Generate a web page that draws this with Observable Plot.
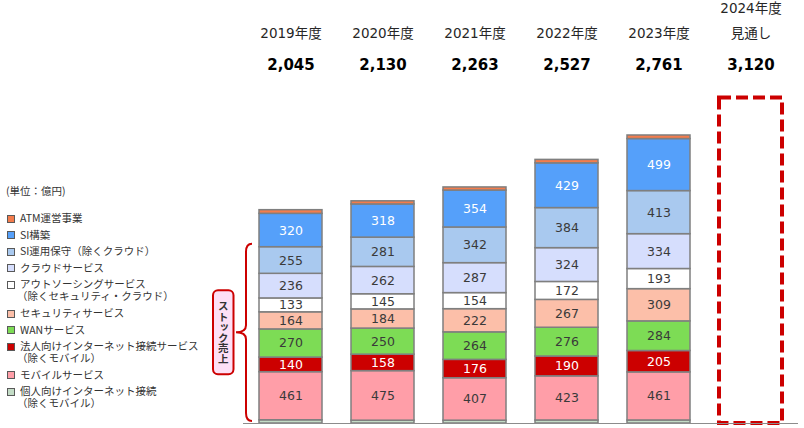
<!DOCTYPE html>
<html><head><meta charset="utf-8">
<script src="https://cdn.jsdelivr.net/npm/d3@7"></script>
<script src="https://cdn.jsdelivr.net/npm/@observablehq/plot@0.6"></script>
<style>
body{margin:0;background:#fff;}
#wrap{position:relative;width:804px;height:428px;overflow:hidden;}
#chart svg{display:block;}
#legend{position:absolute;left:0;top:0;width:240px;height:428px;font-family:"Noto Sans CJK JP",sans-serif;font-size:10.5px;color:#333;pointer-events:none;}
#legend .unit{position:absolute;left:6px;top:185px;line-height:12px;}
#legend .item{position:absolute;left:20px;line-height:12px;white-space:nowrap;}
#legend .sw{position:absolute;left:-13px;top:2.5px;width:6px;height:6px;border:1px solid #595959;}
#legend .txt{white-space:pre;margin-left:-3px;text-indent:3px;}
</style></head><body>
<div id="wrap"><div id="chart"></div><div id="legend"></div></div>
<script>
const years = ["2019","2020","2021","2022","2023","2024"];
const actualYears = ["2019","2020","2021","2022","2023"];
const headerTop = ["","","","","","2024年度"];
const headerMain = ["2019年度","2020年度","2021年度","2022年度","2023年度","見通し"];
const totals = [2045,2130,2263,2527,2761,3120];
const forecastYear = "2024";
const forecastTotal = 3120;

// series, bottom to top
const seriesNames = [
  "個人向けインターネット接続（除くモバイル）",
  "モバイルサービス",
  "法人向けインターネット接続サービス（除くモバイル）",
  "WANサービス",
  "セキュリティサービス",
  "アウトソーシングサービス（除くセキュリティ・クラウド）",
  "クラウドサービス",
  "SI運用保守（除くクラウド）",
  "SI構築",
  "ATM運営事業"
];
const kojin       = [31, 27, 27, 29, 29];
const mobile      = [461, 475, 407, 423, 461];
const houjin      = [140, 158, 176, 190, 205];
const wan         = [270, 250, 264, 276, 284];
const security    = [164, 184, 222, 267, 309];
const outsourcing = [133, 145, 154, 172, 193];
const cloud       = [236, 262, 287, 324, 334];
const siOps       = [255, 281, 342, 384, 413];
const siBuild     = [320, 318, 354, 429, 499];
const atm         = [35, 30, 30, 33, 34];
const seriesValues = [kojin, mobile, houjin, wan, security, outsourcing, cloud, siOps, siBuild, atm];
const colors = ["#c3dcc6","#ff9ea8","#cc0000","#7ddc55","#fcbfa9","#ffffff","#d6defd","#a9c9ef","#55a0fa","#f47c4c"];
const unlabeled = new Set(["個人向けインターネット接続（除くモバイル）","ATM運営事業"]);
const whiteText = new Set(["SI構築","法人向けインターネット接続サービス（除くモバイル）"]);
const stockSeries = seriesNames.slice(0, 8);

// legend, top to bottom
const legendSeries = seriesNames.slice().reverse();
const legendLabels = [
  ["ATM運営事業"],
  ["SI構築"],
  ["SI運用保守（除くクラウド）"],
  ["クラウドサービス"],
  ["アウトソーシングサービス","（除くセキュリティ・クラウド）"],
  ["セキュリティサービス"],
  ["WANサービス"],
  ["法人向けインターネット接続サービス","（除くモバイル）"],
  ["モバイルサービス"],
  ["個人向けインターネット接続","（除くモバイル）"]
];
const unitLabel = "(単位：億円)";
const stockLabel = "ストック売上";

const data = [];
actualYears.forEach((yr, i) => seriesNames.forEach((s, j) => data.push({year: yr, series: s, value: seriesValues[j][i]})));
const forecast = [{year: forecastYear, total: forecastTotal}];
const fmt = d3.format(",");

const stackOpts = {x: "year", y: "value", z: "series", order: seriesNames};
const hdr = {frameAnchor: "top", lineAnchor: "middle"};
const plot = Plot.plot({
  width: 804, height: 428,
  marginLeft: 243, marginRight: 6, marginTop: 0, marginBottom: 5,
  x: {type: "band", domain: years, paddingInner: 0.32, paddingOuter: 0.16, axis: null},
  y: {domain: [0, 4055], axis: null},
  color: {domain: seriesNames, range: colors},
  style: {fontFamily: "'DejaVu Sans','Noto Sans CJK JP',sans-serif", background: "transparent"},
  marks: [
    Plot.barY(forecast, {x: "year", y: "total", fill: "white", stroke: "#cc0000", strokeWidth: 4, strokeDasharray: "12,5"}),
    Plot.barY(data, {x: "year", y: "value", fill: "series", stroke: "#7f7f7f", strokeWidth: 1.5, order: seriesNames}),
    Plot.text(data, Plot.stackY({...stackOpts, text: d => (!unlabeled.has(d.series) && !whiteText.has(d.series)) ? String(d.value) : null, fill: "#3a3a3a", fontSize: 12.5})),
    Plot.text(data, Plot.stackY({...stackOpts, text: d => whiteText.has(d.series) ? String(d.value) : null, fill: "white", fontSize: 12.5})),
    Plot.ruleY([0], {stroke: "#8c8c8c", strokeWidth: 1}),
    Plot.text(years, {x: d => d, text: headerTop, ...hdr, dy: 8, fontSize: 13.5, fill: "#262626"}),
    Plot.text(years, {x: d => d, text: headerMain, ...hdr, dy: 33, fontSize: 13.5, fill: "#262626"}),
    Plot.text(years, {x: d => d, text: totals.map(fmt), ...hdr, dy: 65, fontSize: 15, fontWeight: "bold", fill: "#000"})
  ]
});
document.getElementById("chart").appendChild(plot);

// brace + "stock" label annotation, positioned from the y scale
const ys = plot.scale("y");
const stockTop = d3.sum(stockSeries, s => seriesValues[seriesNames.indexOf(s)][0]);
const bTop = ys.apply(stockTop) - 3;
const bBot = ys.apply(0) - 2;
const bMid = (bTop + bBot) / 2;
const xr = 252, xv = 246, xt = 236;
const svg = d3.select(plot);
const g = svg.append("g");
g.append("path")
  .attr("d", `M${xr},${bTop} Q${xv},${bTop} ${xv},${bTop + 8} L${xv},${bMid - 7} Q${xv},${bMid} ${xt},${bMid} Q${xv},${bMid} ${xv},${bMid + 7} L${xv},${bBot - 8} Q${xv},${bBot} ${xr},${bBot}`)
  .attr("fill", "none").attr("stroke", "#cc0000").attr("stroke-width", 2);
g.append("rect")
  .attr("x", 213).attr("y", bMid - 42).attr("width", 20.5).attr("height", 84).attr("rx", 5)
  .attr("fill", "#fde0f6").attr("stroke", "#cc0000").attr("stroke-width", 2);
g.append("text")
  .attr("x", 223.3).attr("y", bMid).attr("text-anchor", "middle").attr("dominant-baseline", "central")
  .style("writing-mode", "vertical-rl").style("text-orientation", "upright")
  .style("font-family", "'Noto Sans CJK JP',sans-serif").style("font-size", "10.5px").style("font-weight", "bold")
  .attr("fill", "#333").text(stockLabel);

// legend
const leg = d3.select("#legend");
leg.append("div").attr("class", "unit").text(unitLabel);
let ty = 212;
legendLabels.forEach((lines, i) => {
  const it = leg.append("div").attr("class", "item").style("top", ty + "px");
  it.append("div").attr("class", "sw").style("background", colors[seriesNames.indexOf(legendSeries[i])]);
  it.append("div").attr("class", "txt").text(lines.join("\n"));
  ty += lines.length * 12 + 4.6;
});
</script>
</body></html>
